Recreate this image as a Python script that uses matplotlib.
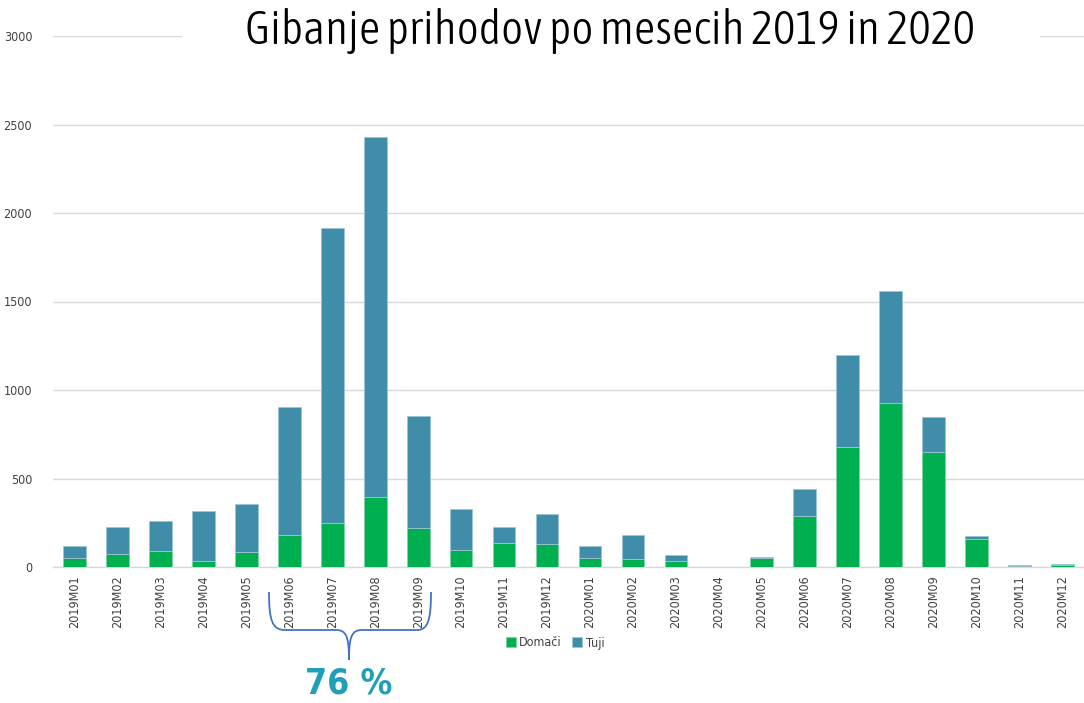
import matplotlib
matplotlib.use("Agg")
import matplotlib.pyplot as plt
from matplotlib import font_manager as fm
from matplotlib.path import Path
from matplotlib.patches import PathPatch, Rectangle

# ---------------- data ----------------
months = ["2019M01", "2019M02", "2019M03", "2019M04", "2019M05", "2019M06",
          "2019M07", "2019M08", "2019M09", "2019M10", "2019M11", "2019M12",
          "2020M01", "2020M02", "2020M03", "2020M04", "2020M05", "2020M06",
          "2020M07", "2020M08", "2020M09", "2020M10", "2020M11", "2020M12"]
domaci = [53, 72, 92, 36, 87, 181, 247, 396, 220, 94, 137, 132,
          49, 43, 32, 0, 49, 290, 676, 928, 648, 160, 8, 12]
tuji = [67, 154, 168, 279, 267, 721, 1670, 2034, 633, 232, 89, 166,
        71, 138, 38, 0, 6, 152, 520, 633, 198, 17, 3, 5]
y_ticks = [0, 500, 1000, 1500, 2000, 2500, 3000]
title_text = "Gibanje prihodov po mesecih 2019 in 2020"
legend_labels = ["Domači", "Tuji"]
note_text = "76 %"

# ---------------- fonts ----------------
flist = fm.fontManager.ttflist
names = {f.name for f in flist}
narrow_stretch = "normal"
if "Liberation Sans Narrow" in names:
    narrow = "Liberation Sans Narrow"
else:
    narrow = "DejaVu Sans"
    if any(f.name == "DejaVu Sans" and f.stretch == "condensed" for f in flist):
        narrow_stretch = "condensed"


def wnum(w):
    if isinstance(w, int):
        return w
    return fm.weight_dict.get(w, 400)


# title font: prefer a light condensed face if one exists
title_font = dict(family=narrow, stretch=narrow_stretch, weight="normal")
cands = [f for f in flist
         if f.stretch in ("condensed", "semi-condensed", "extra-condensed")
         and wnum(f.weight) <= 300 and f.style == "normal"]
if cands:
    c = sorted(cands, key=lambda f: abs(wnum(f.weight) - 300))[0]
    title_font = dict(family=c.name, stretch=c.stretch, weight=wnum(c.weight))

plt.rcParams["font.family"] = [narrow, "DejaVu Sans"]
plt.rcParams["font.stretch"] = narrow_stretch

GREEN = "#00AF50"
BLUE = "#3F8DA8"
GRID = "#D9D9D9"
TXT = "#404040"

W, H = 1084, 703
fig = plt.figure(figsize=(W / 100, H / 100), dpi=100)
ax = fig.add_axes([53 / W, 1 - 567 / H, 1 - 53 / W, (567 - 36) / H])

x = list(range(len(months)))
ax.bar(x, domaci, width=0.53, color=GREEN, edgecolor="#7fd3a4", linewidth=0.6,
       label=legend_labels[0], zorder=3)
ax.bar(x, tuji, width=0.53, bottom=domaci, color=BLUE, edgecolor="#9cc5d3",
       linewidth=0.6, label=legend_labels[1], zorder=3)

ax.set_xlim(-0.5, len(months) - 0.5)
ax.set_ylim(0, 3000)
ax.set_yticks(y_ticks)
ax.set_yticklabels([str(v) for v in y_ticks])
ax.set_xticks(x)
ax.set_xticklabels(months, rotation=90, va="top", ha="center")
ax.tick_params(axis="x", length=0, pad=6, labelsize=9, labelcolor=TXT)
ax.tick_params(axis="y", length=0, pad=15, labelsize=9, labelcolor=TXT)
ax.grid(axis="y", color=GRID, linewidth=1.0, zorder=0)
ax.set_axisbelow(True)
for s in ["top", "right", "left"]:
    ax.spines[s].set_visible(False)
ax.spines["bottom"].set_color(GRID)
ax.spines["bottom"].set_linewidth(1.0)

# legend
leg = fig.legend(loc="center", bbox_to_anchor=(555 / W, 1 - 643 / H), ncol=2,
                 frameon=False, fontsize=9, handlelength=0.8, handleheight=0.8,
                 handletextpad=0.3, columnspacing=0.8)
for t in leg.get_texts():
    t.set_color(TXT)

# title with white background covering the top grid line
fig.patches.append(Rectangle((182 / W, 1 - 52 / H), (1040 - 182) / W, 36 / H,
                             transform=fig.transFigure, facecolor="white",
                             edgecolor="none", zorder=2))
title = fig.text(610 / W, 1 - 31 / H, title_text, ha="center", va="center",
                 fontsize=34, color="black", zorder=3,
                 family=[title_font["family"], "DejaVu Sans"],
                 stretch=title_font["stretch"], weight=title_font["weight"])

note = fig.text(349 / W, 1 - 684 / H, note_text, ha="center", va="center",
                fontsize=33, fontweight="bold", color="#1FA0B4", zorder=3)

fig.canvas.draw()
renderer = fig.canvas.get_renderer()


def fit_width(t, target):
    for _ in range(4):
        w = t.get_window_extent(renderer).width
        t.set_fontsize(t.get_fontsize() * target / w)


fit_width(title, 730)
fit_width(note, 87)


def P(px, py):
    return (px / W, 1 - py / H)


# brace under 2019M06-2019M09
codes = [Path.MOVETO, Path.CURVE4, Path.CURVE4, Path.CURVE4,
         Path.LINETO, Path.CURVE4, Path.CURVE4, Path.CURVE4]
verts = [P(269, 592), P(269, 620), P(272, 630), P(285, 630),
         P(336, 630), P(346, 630), P(349, 636), P(349, 660)]
verts2 = [P(349, 660), P(349, 636), P(352, 630), P(362, 630),
          P(417, 630), P(428, 630), P(431, 620), P(431, 592)]
for v in (verts, verts2):
    fig.patches.append(PathPatch(Path(v, codes), transform=fig.transFigure,
                                 facecolor="none", edgecolor="#4472C4",
                                 linewidth=1.3, zorder=3))

fig.savefig("out.png", dpi=100)
